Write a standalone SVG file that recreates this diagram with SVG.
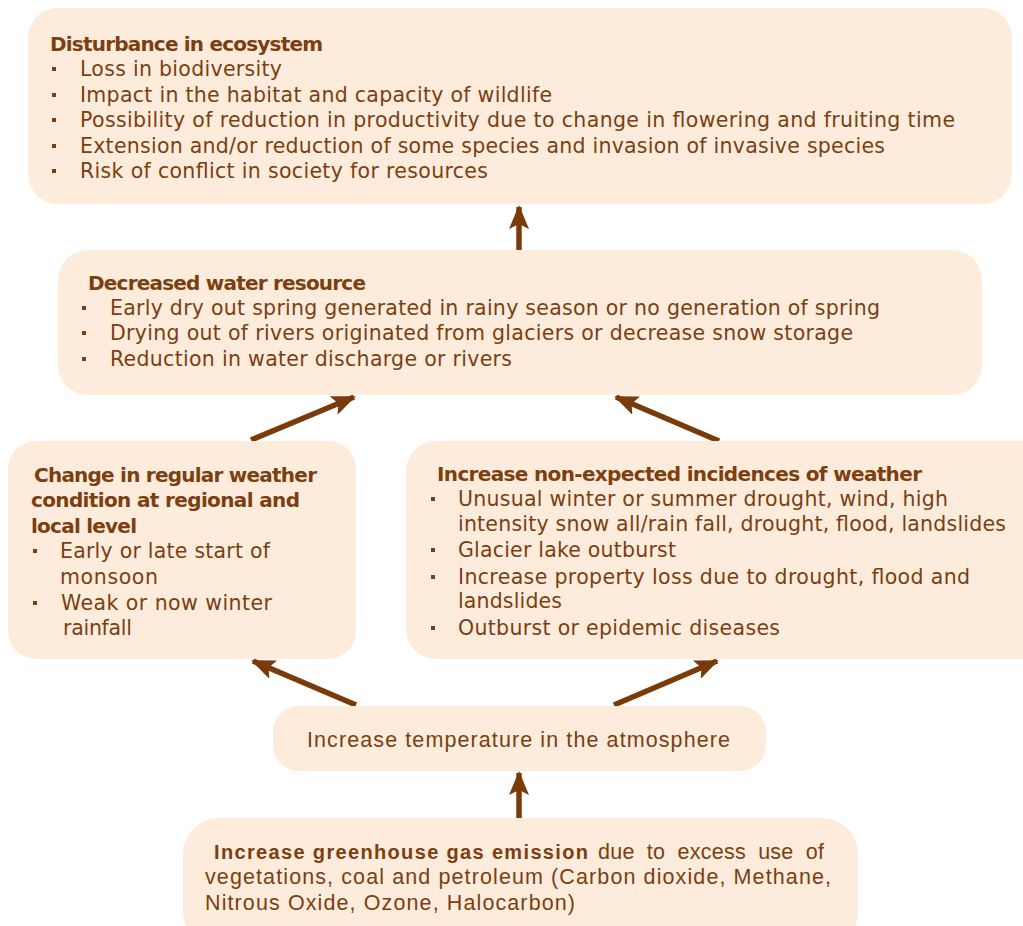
<svg xmlns="http://www.w3.org/2000/svg" width="1023" height="926" viewBox="0 0 1023 926">
  <style>
    .box { fill: #fdebdc; }
    text { font-family: "DejaVu Sans", "Liberation Sans", sans-serif; font-size: 20.5px; fill: #7b3f10; }
    .h { font-weight: bold; font-size: 20px; }
    .plain { font-family: "Liberation Sans", Arial, sans-serif; font-size: 21.5px; }
    .bul { fill: #7b3f10; }
    .conn { stroke: #7a3b0a; stroke-width: 5.5; fill: none; marker-end: url(#head); }
  </style>
  <defs>
    <marker id="head" viewBox="0 0 24 20" refX="22" refY="10" markerWidth="24" markerHeight="20" orient="auto" markerUnits="userSpaceOnUse">
      <path d="M0,0 L24,10 L0,20 L5,10 z" fill="#7a3b0a"/>
    </marker>
  </defs>

  <rect width="1023" height="926" fill="#ffffff"/>

  <!-- connectors -->
  <g id="connectors">
    <line class="conn" x1="519" y1="250" x2="519" y2="207"/>
    <line class="conn" x1="251" y1="440" x2="354" y2="397"/>
    <line class="conn" x1="719" y1="441" x2="616" y2="397"/>
    <line class="conn" x1="356" y1="705" x2="253" y2="661"/>
    <line class="conn" x1="614" y1="705" x2="717" y2="661"/>
    <line class="conn" x1="519" y1="818" x2="519" y2="773"/>
  </g>

  <!-- ecosystem disturbance -->
  <g id="ecosystem">
    <rect class="box" x="28" y="8" width="984" height="196" rx="30"/>
    <text class="h" x="50" y="51" textLength="273">Disturbance in ecosystem</text>
    <rect class="bul" x="52" y="67" width="4" height="4"/>
    <text x="80" y="76" textLength="202">Loss in biodiversity</text>
    <rect class="bul" x="52" y="93" width="4" height="4"/>
    <text x="80" y="102" textLength="472">Impact in the habitat and capacity of wildlife</text>
    <rect class="bul" x="52" y="118" width="4" height="4"/>
    <text x="80" y="127" textLength="875">Possibility of reduction in productivity due to change in flowering and fruiting time</text>
    <rect class="bul" x="52" y="144" width="4" height="4"/>
    <text x="80" y="153" textLength="805">Extension and/or reduction of some species and invasion of invasive species</text>
    <rect class="bul" x="52" y="169" width="4" height="4"/>
    <text x="80" y="178" textLength="408">Risk of conflict in society for resources</text>
  </g>

  <!-- water resource -->
  <g id="water">
    <rect class="box" x="58" y="250" width="924" height="145" rx="30"/>
    <text class="h" x="88" y="290" textLength="278">Decreased water resource</text>
    <rect class="bul" x="82" y="306" width="4" height="4"/>
    <text x="110" y="315" textLength="770">Early dry out spring generated in rainy season or no generation of spring</text>
    <rect class="bul" x="82" y="331" width="4" height="4"/>
    <text x="110" y="340" textLength="743">Drying out of rivers originated from glaciers or decrease snow storage</text>
    <rect class="bul" x="82" y="357" width="4" height="4"/>
    <text x="110" y="366" textLength="402">Reduction in water discharge or rivers</text>
  </g>

  <!-- regional weather -->
  <g id="regional">
    <rect class="box" x="8" y="441" width="348" height="218" rx="28"/>
    <text class="h" x="34" y="482" textLength="283">Change in regular weather</text>
    <text class="h" x="31" y="507" textLength="269">condition at regional and</text>
    <text class="h" x="31" y="533" textLength="106">local level</text>
    <rect class="bul" x="33" y="549" width="4" height="4"/>
    <text x="60" y="558" textLength="210">Early or late start of</text>
    <text x="60" y="584" textLength="98">monsoon</text>
    <rect class="bul" x="33" y="601" width="4" height="4"/>
    <text x="61" y="610" textLength="211">Weak or now winter</text>
    <text x="63" y="635" textLength="69">rainfall</text>
  </g>

  <!-- unexpected weather -->
  <g id="unexpected">
    <rect class="box" x="406" y="441" width="650" height="218" rx="30"/>
    <text class="h" x="437" y="481" textLength="485">Increase non-expected incidences of weather</text>
    <rect class="bul" x="431" y="497" width="4" height="4"/>
    <text x="458" y="506" textLength="490">Unusual winter or summer drought, wind, high</text>
    <text x="458" y="531" textLength="548">intensity snow all/rain fall, drought, flood, landslides</text>
    <rect class="bul" x="431" y="548" width="4" height="4"/>
    <text x="458" y="557" textLength="218">Glacier lake outburst</text>
    <rect class="bul" x="431" y="575" width="4" height="4"/>
    <text x="458" y="584" textLength="512">Increase property loss due to drought, flood and</text>
    <text x="458" y="608" textLength="104">landslides</text>
    <rect class="bul" x="431" y="626" width="4" height="4"/>
    <text x="458" y="635" textLength="322">Outburst or epidemic diseases</text>
  </g>

  <!-- temperature -->
  <g id="temperature">
    <rect class="box" x="273" y="706" width="493" height="65" rx="26"/>
    <text class="plain" x="307" y="747" textLength="423">Increase temperature in the atmosphere</text>
  </g>

  <!-- greenhouse gas -->
  <g id="greenhouse">
    <rect class="box" x="183" y="818" width="675" height="130" rx="36"/>
    <text class="plain" y="859"><tspan class="h" x="214" textLength="374">Increase greenhouse gas emission</tspan><tspan x="598" textLength="226" word-spacing="6">due to excess use of</tspan></text>
    <text class="plain" x="205" y="884" textLength="626">vegetations, coal and petroleum (Carbon dioxide, Methane,</text>
    <text class="plain" x="205" y="910" textLength="370">Nitrous Oxide, Ozone, Halocarbon)</text>
  </g>
</svg>
